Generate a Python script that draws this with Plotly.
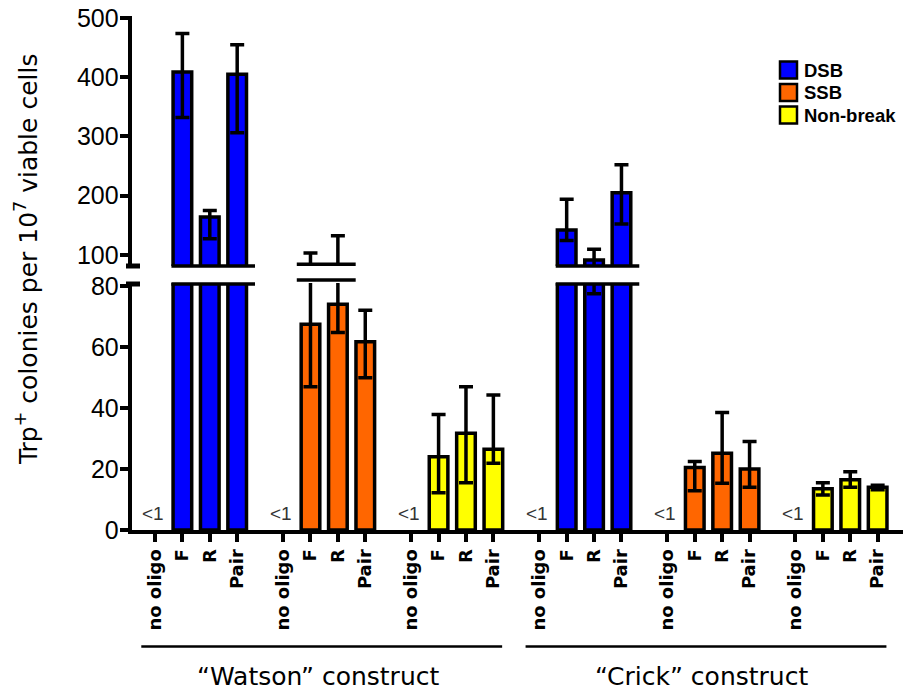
import plotly.graph_objects as go

# ---------------- data ----------------
constructs = ["\u201cWatson\u201d construct", "\u201cCrick\u201d construct"]
oligos = ["no oligo", "F", "R", "Pair"]
series_names = ["DSB", "SSB", "Non-break"]
series_colors = ["#0000FF", "#FF6600", "#FFFF00"]

# values per series: [Watson(no oligo, F, R, Pair), Crick(no oligo, F, R, Pair)]
dsb_vals = [[None, 409, 164, 405], [None, 142, 91, 205]]
dsb_plus = [[None, 65, 11, 50], [None, 52, 18.5, 47]]
dsb_minus = [[None, 77, 37, 99], [None, 18, 13.5, 53]]

ssb_vals = [[None, 67.5, 74, 61.7], [None, 20.5, 25.2, 20.0]]
ssb_plus = [[None, 35.5, 58, 10.4], [None, 2.0, 13.3, 9.0]]
ssb_minus = [[None, 20.5, 9.2, 11.8], [None, 7.6, 9.9, 6.0]]

nb_vals = [[None, 24.0, 31.7, 26.5], [None, 13.5, 16.5, 14.0]]
nb_plus = [[None, 13.9, 15.3, 17.8], [None, 2.0, 2.6, 0.7]]
nb_minus = [[None, 11.8, 16.2, 4.6], [None, 2.0, 2.5, 0.8]]

below_label = "<1"
y_lower_ticks = [0, 20, 40, 60, 80]
y_upper_ticks = [100, 200, 300, 400, 500]
y_title = "Trp<sup>+</sup> colonies per 10<sup>7</sup> viable cells"

series_vals = [dsb_vals, ssb_vals, nb_vals]
series_plus = [dsb_plus, ssb_plus, nb_plus]
series_minus = [dsb_minus, ssb_minus, nb_minus]

# ---------------- layout constants ----------------
W, H = 903, 694
GROUP_STEP = 4.675
X_DOM = [131.7 / W, 1.0]
XR = [-0.85, 27.3]
LOW_RANGE = [0, 81]
UP_RANGE = [81, 503]
LOW_DOM = [1 - 530 / H, 1 - 283 / H]
UP_DOM = [1 - 266 / H, 1 - 16.3 / H]
AX_FONT = "Liberation Sans, Arial, sans-serif"
WIDE_FONT = "DejaVu Sans, Verdana, sans-serif"


def group_index(construct_i, series_i):
    return construct_i * 3 + series_i


def pos(construct_i, series_i, oligo_i):
    return group_index(construct_i, series_i) * GROUP_STEP + oligo_i


def xp(p):
    return X_DOM[0] + (p - XR[0]) / (XR[1] - XR[0]) * (X_DOM[1] - X_DOM[0])


def yp(pix):
    return 1 - pix / H


fig = go.Figure()

for s in range(3):
    xs, ys, ep, em = [], [], [], []
    for c in range(2):
        for o in range(4):
            xs.append(pos(c, s, o))
            ys.append(series_vals[s][c][o])
            ep.append(series_plus[s][c][o])
            em.append(series_minus[s][c][o])
    for yax in ["y", "y2"]:
        fig.add_trace(go.Bar(
            x=xs, y=ys, name=series_names[s], yaxis=yax,
            width=0.68,
            marker=dict(color=series_colors[s], line=dict(color="black", width=3.5)),
            error_y=dict(type="data", array=ep, arrayminus=em, symmetric=False,
                         color="black", thickness=3.5, width=7),
            showlegend=False, cliponaxis=True,
        ))

tickvals, ticktext = [], []
for c in range(2):
    for s in range(3):
        for o in range(4):
            tickvals.append(pos(c, s, o))
            ticktext.append(oligos[o])

shapes = []
annotations = []

# break marks across bars that pass the axis break
for c in range(2):
    for s in range(3):
        crossing = [o for o in range(4)
                    if series_vals[s][c][o] is not None
                    and series_vals[s][c][o] + series_plus[s][c][o] > LOW_RANGE[1]]
        if not crossing:
            continue
        full = all(series_vals[s][c][o] > LOW_RANGE[1] for o in crossing)
        x0 = xp(pos(c, s, crossing[0]) - (0.4 if full else 0.5))
        x1 = xp(pos(c, s, crossing[-1]) + 0.65)
        for pix in ([266, 284] if full else [264.3, 280]):
            shapes.append(dict(type="line", xref="paper", yref="paper",
                               x0=x0, x1=x1, y0=yp(pix), y1=yp(pix),
                               line=dict(color="black", width=3.5)))

# axis break marks
for pix in [266, 284]:
    shapes.append(dict(type="line", xref="paper", yref="paper",
                       x0=126 / W, x1=140 / W, y0=yp(pix), y1=yp(pix),
                       line=dict(color="black", width=5)))

# "<1" labels
for c in range(2):
    for s in range(3):
        annotations.append(dict(x=pos(c, s, 0), y=0, xref="x", yref="y",
                                text=below_label, showarrow=False,
                                yanchor="bottom", xanchor="center",
                                xshift=-2, yshift=4,
                                font=dict(family=AX_FONT, size=19, color="#333333")))

# construct brackets and labels
for c in range(2):
    first = pos(c, 0, 0) - 0.5
    last = pos(c, 2, 3) + 0.32
    shapes.append(dict(type="line", xref="paper", yref="paper",
                       x0=xp(first), x1=xp(last), y0=yp(646.5), y1=yp(646.5),
                       line=dict(color="black", width=2.5)))
    annotations.append(dict(x=xp((first + last) / 2 - 0.15), y=yp(676), xref="paper", yref="paper",
                            text=constructs[c], showarrow=False,
                            xanchor="center", yanchor="middle",
                            font=dict(family=WIDE_FONT, size=25, color="black")))

# y title
annotations.append(dict(x=26 / W, y=yp(260), xref="paper", yref="paper",
                        text=y_title, textangle=-90, showarrow=False,
                        xanchor="center", yanchor="middle",
                        font=dict(family=WIDE_FONT, size=25, color="black")))

# legend (manual)
for s in range(3):
    cy = 70 + s * 22.5
    shapes.append(dict(type="rect", xref="paper", yref="paper",
                       x0=780 / W, x1=797 / W, y0=yp(cy + 8.5), y1=yp(cy - 8.5),
                       fillcolor=series_colors[s], line=dict(color="black", width=2.5)))
    annotations.append(dict(x=802 / W, y=yp(cy), xref="paper", yref="paper",
                            text=series_names[s], showarrow=False,
                            xanchor="left", yanchor="middle",
                            font=dict(family=AX_FONT, size=18.5, color="black", weight="bold")))

axis_common = dict(showgrid=False, zeroline=False, showline=True, linecolor="black",
                   linewidth=4, ticks="outside", ticklen=8, tickwidth=4, tickcolor="black",
                   automargin=False)

fig.update_layout(
    width=W, height=H, margin=dict(l=0, r=0, t=0, b=0, pad=0, autoexpand=False),
    paper_bgcolor="white", plot_bgcolor="white",
    showlegend=False, barmode="overlay",
    xaxis=dict(domain=X_DOM, range=XR, tickmode="array", tickvals=tickvals, ticktext=ticktext,
               tickangle=-90, anchor="y",
               tickfont=dict(family=WIDE_FONT, size=18, color="black", weight="bold"),
               **axis_common),
    yaxis=dict(domain=LOW_DOM, range=LOW_RANGE, tickmode="array", tickvals=y_lower_ticks,
               anchor="x", tickfont=dict(family=AX_FONT, size=25, color="black"), **axis_common),
    yaxis2=dict(domain=UP_DOM, range=UP_RANGE, tickmode="array", tickvals=y_upper_ticks,
                anchor="x", tickfont=dict(family=AX_FONT, size=25, color="black"), **axis_common),
    shapes=shapes, annotations=annotations,
)

try:
    fig.update_yaxes(ticklabelstandoff=-4)
except Exception:
    pass

fig.write_html("out.html")
